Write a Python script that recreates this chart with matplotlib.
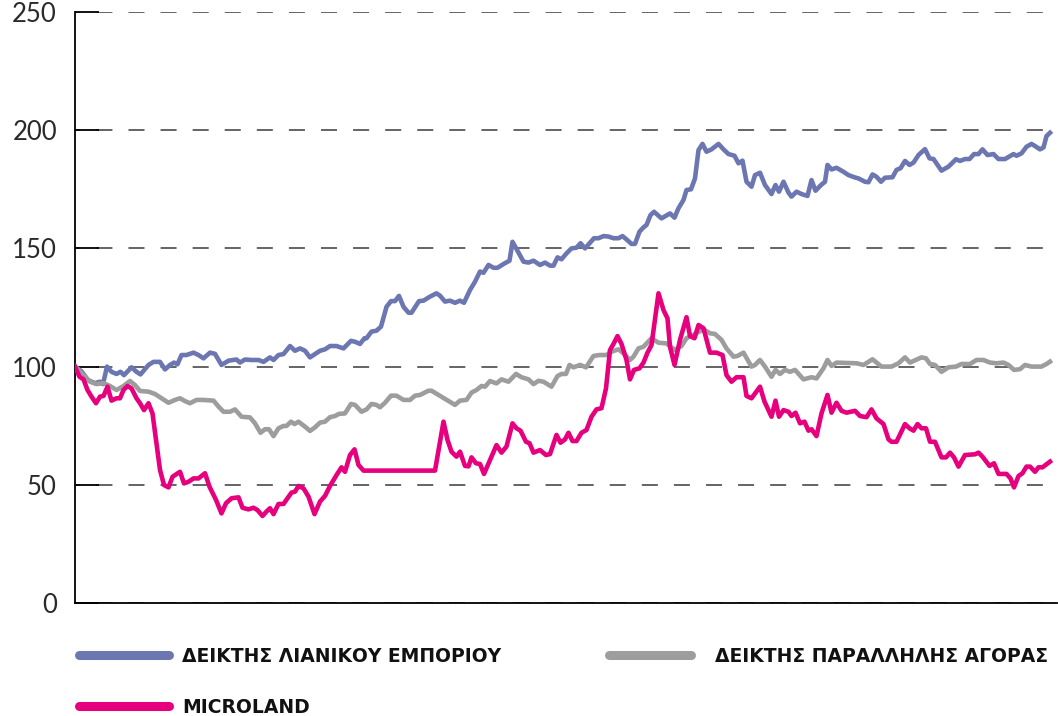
import matplotlib
matplotlib.use("Agg")
import matplotlib.pyplot as plt
from matplotlib.lines import Line2D

# days since start of the period, value index (start = 100)
retail_days = [0, 13, 26, 40, 50, 56, 64, 73, 83, 91, 98, 113, 123, 131, 147, 157, 170, 180, 190, 198,
               205, 213, 223, 237, 247, 257, 270, 280, 293, 307, 317, 323, 330, 340, 353, 367, 377, 390,
               397, 407, 417, 430, 440, 450, 460, 470, 480, 490, 500, 510, 523, 537, 552, 560, 570, 579,
               583, 593, 603, 612, 623, 632, 640, 648, 657, 667, 673, 688, 697, 710, 723, 730, 740, 750,
               760, 770, 778, 790, 800, 810, 817, 827, 837, 845, 857, 869, 875, 885, 897, 907, 917, 930,
               940, 950, 957, 965, 973, 983, 993, 1003, 1011, 1020, 1030, 1038, 1047, 1057, 1067, 1077,
               1087, 1095, 1103, 1113, 1120, 1129, 1137, 1143, 1151, 1158, 1173, 1190, 1199, 1207, 1217,
               1223, 1232, 1240, 1247, 1255, 1263, 1273, 1287, 1297, 1307, 1319, 1327, 1335, 1343, 1353,
               1360, 1370, 1380, 1393, 1401, 1408, 1417, 1427, 1433, 1443, 1453, 1465, 1473, 1481, 1492,
               1500, 1505, 1513, 1523, 1537, 1547, 1560, 1567, 1580, 1587, 1595, 1603, 1612, 1620, 1635,
               1643, 1651, 1660, 1669, 1677, 1687, 1700, 1709, 1717, 1733, 1747, 1762, 1770, 1780, 1789,
               1798, 1807, 1815, 1825, 1837, 1847, 1860, 1877, 1883, 1893, 1903, 1913, 1920, 1930, 1937,
               1943, 1950]
retail = [100, 98, 94.3, 93, 93.6, 92.6, 100, 97.8, 96.9, 97.8, 96.4, 99.7, 97.8, 96.7, 100.7, 102, 102,
          98.8, 100.7, 101.7, 101, 104.9, 104.9, 105.9, 104.9, 103.5, 105.9, 105.4, 100.7, 102.5, 102.8,
          103, 101.7, 103, 102.8, 102.8, 102, 103.9, 102.8, 104.9, 105.3, 108.7, 106.7, 107.7, 106.7,
          103.9, 105.3, 106.7, 107.3, 108.7, 108.7, 107.7, 110.9, 110.5, 109.6, 112, 112, 114.8, 115.2,
          116.9, 125.3, 127.7, 127.7, 129.9, 125.3, 122.8, 122.8, 127.7, 127.9, 129.6, 131, 130, 127.5,
          127.9, 127, 127.9, 127, 132.4, 135.9, 140.2, 139.7, 143, 141.8, 141.8, 143.4, 144.8, 152.8, 149,
          144.4, 144, 144.8, 143, 144, 142.7, 142.7, 146.2, 145.4, 147.9, 150, 150.3, 152.2, 150, 152.4,
          154.3, 154.3, 155.2, 155, 154.3, 154.3, 155.2, 153.8, 151.9, 151.9, 157.1, 158.9, 159.9, 164.1,
          165.5, 162.7, 164.8, 163, 167, 170.5, 174.7, 175, 179.6, 191.6, 194.2, 190.9, 191.9, 194.2,
          191.9, 189.9, 189.2, 186, 187.1, 178.2, 176.1, 181, 182, 176.8, 173, 176.8, 174, 178.2, 173.6,
          171.9, 174, 173, 172.2, 178.9, 174.4, 176.8, 178.2, 185.3, 183.4, 184.1, 182.4, 181, 180, 179.6,
          178.2, 178, 181.3, 180.3, 178.2, 179.9, 180.1, 183.2, 183.9, 187, 185.3, 186.3, 189.5, 192,
          188.1, 187.8, 182.9, 184.6, 187.7, 187, 187.8, 187.8, 189.9, 189.9, 191.9, 189.5, 189.9, 187.8,
          187.8, 189.9, 189.2, 190.2, 193, 194.2, 193.3, 191.9, 192.7, 197.5, 198.9]

parallel_days = [0, 17, 30, 43, 57, 70, 83, 97, 110, 120, 130, 147, 160, 173, 187, 200, 210, 220, 230,
                 243, 257, 277, 287, 297, 310, 320, 333, 350, 360, 371, 380, 388, 397, 407, 417, 423, 432,
                 439, 447, 460, 470, 480, 490, 500, 510, 520, 528, 540, 552, 560, 573, 583, 593, 603, 610,
                 620, 632, 643, 657, 670, 680, 690, 707, 713, 727, 743, 760, 770, 783, 793, 803, 813, 820,
                 830, 843, 853, 867, 882, 893, 907, 917, 927, 937, 953, 965, 973, 982, 989, 997, 1010, 1022,
                 1037, 1049, 1063, 1073, 1087, 1097, 1110, 1117, 1127, 1137, 1153, 1167, 1183, 1200, 1213,
                 1223, 1240, 1257, 1270, 1280, 1293, 1303, 1317, 1325, 1337, 1353, 1360, 1370, 1380, 1393,
                 1401, 1410, 1420, 1430, 1440, 1457, 1473, 1483, 1497, 1505, 1513, 1523, 1563, 1577, 1595,
                 1613, 1633, 1647, 1660, 1670, 1693, 1702, 1710, 1720, 1733, 1747, 1762, 1773, 1790, 1803,
                 1817, 1830, 1843, 1857, 1867, 1878, 1890, 1900, 1913, 1933, 1943, 1950]
parallel = [100, 96.4, 93.6, 92.6, 93, 91.8, 90.1, 91.8, 93.9, 92.2, 89.7, 89.4, 88.4, 86.6, 84.7, 85.9,
            86.6, 85.4, 84.5, 85.9, 85.9, 85.6, 83.1, 80.9, 80.9, 81.9, 78.8, 78.5, 76, 72, 73.5, 73.5, 70.6,
            73.9, 74.9, 74.9, 76.7, 75.7, 76.7, 74.6, 72.8, 74.3, 76.3, 76.7, 78.6, 79.1, 80, 80.2, 84.2,
            83.8, 80.9, 81.9, 84.2, 83.8, 82.8, 84.7, 87.7, 87.7, 85.9, 85.9, 87.7, 88, 89.8, 89.8, 88,
            85.9, 83.8, 85.6, 85.9, 89, 90.1, 91.8, 91.5, 93.9, 92.9, 94.6, 93.6, 96.9, 95.5, 94.6, 92.6,
            94, 93.6, 91.5, 96, 96.9, 96.9, 100.7, 99.7, 100.7, 99.7, 104.5, 104.9, 104.9, 106.3, 107.3,
            105.6, 102.8, 104.2, 107.7, 108.4, 112, 110.1, 109.8, 107, 108.7, 112, 113.8, 115.8, 114.1,
            113.8, 111.3, 107.7, 104.2, 104.5, 105.9, 100, 100.7, 102.8, 100, 95.7, 98.6, 96.9, 98.6, 97.8,
            98.6, 94.6, 95.5, 95, 99.3, 102.8, 100.3, 101.7, 101.4, 100.7, 103.1, 100, 100, 101.4, 103.9,
            101.7, 103.9, 103.5, 101.1, 100.7, 97.8, 99.7, 100, 101.1, 101.1, 102.8, 102.8, 101.7, 101.4,
            101.7, 100.7, 98.6, 98.9, 100.7, 100, 100, 101.1, 102.1]

micro_days = [0, 9, 17, 25, 33, 42, 50, 57, 65, 73, 83, 90, 97, 105, 113, 123, 130, 138, 147, 155, 162,
              170, 178, 187, 195, 210, 218, 227, 237, 247, 260, 269, 282, 293, 302, 313, 327, 335, 347, 357,
              365, 375, 383, 390, 397, 407, 417, 433, 440, 447, 457, 467, 479, 490, 500, 510, 523, 533, 540,
              550, 559, 567, 577, 720, 737, 745, 753, 763, 770, 780, 787, 793, 802, 810, 818, 830, 843, 853,
              863, 875, 883, 891, 902, 909, 917, 930, 942, 950, 963, 971, 980, 987, 995, 1003, 1013, 1023,
              1033, 1043, 1053, 1062, 1070, 1077, 1085, 1093, 1103, 1110, 1118, 1129, 1137, 1145, 1153,
              1167, 1177, 1185, 1190, 1199, 1210, 1223, 1230, 1239, 1247, 1257, 1270, 1283, 1295, 1303,
              1313, 1323, 1337, 1343, 1353, 1370, 1379, 1393, 1401, 1408, 1417, 1427, 1433, 1441, 1450,
              1459, 1467, 1473, 1483, 1493, 1505, 1513, 1523, 1533, 1543, 1560, 1570, 1583, 1593, 1603,
              1617, 1627, 1633, 1643, 1660, 1669, 1677, 1685, 1693, 1702, 1710, 1720, 1733, 1742, 1750,
              1758, 1767, 1780, 1800, 1807, 1815, 1829, 1838, 1847, 1863, 1871, 1878, 1887, 1895, 1903,
              1910, 1920, 1927, 1935, 1950]
micro = [100, 95.7, 94.6, 90.1, 87.3, 84.5, 87.3, 87.6, 91.5, 85.6, 86.6, 86.6, 90.1, 91.8, 90.8, 86.6,
         84.5, 81.6, 84.5, 80.2, 69, 56.3, 49.9, 48.9, 53.4, 55.5, 50.6, 51.3, 52.7, 52.7, 54.9, 49.2, 43.6,
         37.9, 42.2, 44.3, 44.7, 40.3, 39.6, 40.3, 39.3, 36.8, 38.7, 40.1, 37.6, 41.9, 41.9, 46.7, 47.1, 49.5,
         48.5, 45, 37.6, 42.9, 45.3, 49.5, 54.1, 57.4, 55.5, 62.6, 65, 58.4, 56, 56, 76.7, 69, 64, 61.9, 64,
         58, 57.8, 61.6, 59.1, 58.8, 54.6, 60.5, 66.8, 63.6, 66.2, 76, 73.9, 72.9, 68.2, 67.6, 63.6, 64.7,
         62.6, 63, 71.1, 67.8, 69.2, 72, 68.5, 68.5, 72, 73.2, 78.8, 81.9, 82.4, 90.8, 107, 109.6, 112.9,
         109.6, 102.8, 94.6, 98.6, 99.3, 101.7, 105.9, 109.1, 131, 123.9, 120.4, 108.4, 100.7, 111.3, 120.9,
         112.9, 112, 117.6, 116.2, 105.9, 105.9, 104.9, 96.4, 93.6, 95.5, 95.5, 87.6, 86.6, 91.5, 85.2,
         78.8, 85.6, 78.8, 81.6, 80.9, 79.1, 80.5, 76, 76.7, 72.9, 73.5, 70.6, 80.2, 88, 80.5, 84.7, 81.3,
         80.5, 81.3, 79.1, 78.6, 81.9, 78.1, 75.7, 69.2, 68.2, 68.2, 75.7, 73.9, 72.9, 75.7, 73.9, 73.9,
         68.2, 68.2, 61.6, 61.6, 63.6, 61.6, 57.7, 62.6, 62.9, 63.6, 61.9, 58, 59.1, 54.6, 54.6, 52.7, 48.9,
         53.7, 54.9, 57.7, 57.7, 55.5, 57.4, 57.4, 59.8]

labels = ["ΔΕΙΚΤΗΣ ΛΙΑΝΙΚΟΥ ΕΜΠΟΡΙΟΥ", "MICROLAND", "ΔΕΙΚΤΗΣ ΠΑΡΑΛΛΗΛΗΣ ΑΓΟΡΑΣ"]
yticks = [0, 50, 100, 150, 200, 250]

c_retail = "#6c77b2"
c_micro = "#e6007e"
c_par = "#9d9d9d"

fig = plt.figure(figsize=(10.58, 7.16), dpi=100)
ax = fig.add_axes([75 / 1058, 1 - 603 / 716, 982 / 1058, 591 / 716])

ax.plot(retail_days, retail, color=c_retail, lw=3.3, solid_joinstyle="round", zorder=3)
ax.plot(parallel_days, parallel, color=c_par, lw=3.3, solid_joinstyle="round", zorder=3)
ax.plot(micro_days, micro, color=c_micro, lw=3.3, solid_joinstyle="round", zorder=4)

ax.set_xlim(0, 1964)
ax.set_ylim(0, 250)
ax.set_yticks(yticks)
ax.set_xticks([])
ax.yaxis.grid(True, color="#3a3a3a", lw=1.1, linestyle=(7, (10.5, 10.5)))
ax.set_axisbelow(True)
for s in ["top", "right"]:
    ax.spines[s].set_visible(False)
ax.spines["left"].set_linewidth(1.3)
ax.spines["bottom"].set_linewidth(1.3)
ax.tick_params(axis="y", direction="in", length=17, width=1.3, color="black", pad=13,
               labelsize=18.5, labelcolor="#2a2a2a")
for t in ax.get_yticklabels():
    t.set_fontfamily(["Lato", "DejaVu Sans"])

# legend: two blocks so each column sits where it does in the original
leg_font = {"family": "DejaVu Sans", "weight": "bold", "size": 13.5}
h_retail = Line2D([], [], color=c_retail, lw=6.5, solid_capstyle="round")
h_micro = Line2D([], [], color=c_micro, lw=6.5, solid_capstyle="round")
h_par = Line2D([], [], color=c_par, lw=6.5, solid_capstyle="round")

leg1 = fig.legend([h_retail, h_micro], [labels[0], labels[1]], loc="upper left",
                  bbox_to_anchor=(79 / 1058, 1 - 647 / 716), frameon=False,
                  borderaxespad=0, borderpad=0, handlelength=4.8, handletextpad=0.7,
                  labelspacing=1.7, prop=leg_font)
leg2 = fig.legend([h_par], [labels[2]], loc="upper left",
                  bbox_to_anchor=(609 / 1058, 1 - 647 / 716), frameon=False,
                  borderaxespad=0, borderpad=0, handlelength=4.4, handletextpad=1.28,
                  prop=leg_font)
for lg in (leg1, leg2):
    for t in lg.get_texts():
        t.set_color("#111111")

fig.savefig("out.png", dpi=100)
